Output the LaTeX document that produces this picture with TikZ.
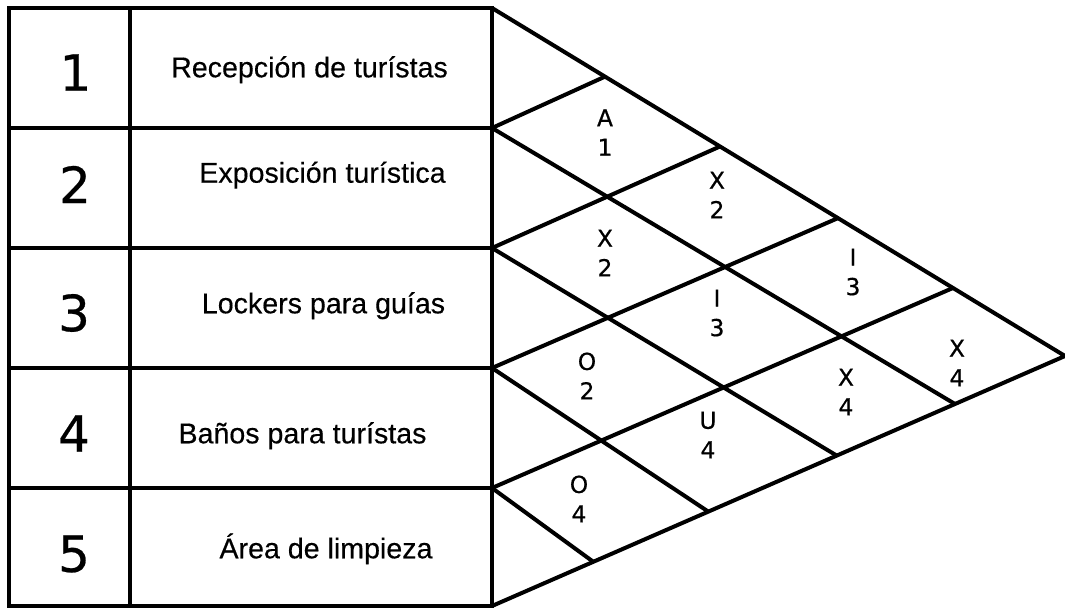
\documentclass[tikz,border=0pt]{standalone}
\usepackage{fontspec}
\setmainfont{Liberation Sans}
\newfontfamily\areafont[FakeBold=0.4]{Liberation Sans}
\newfontfamily\numfont[FakeBold=0.5]{DejaVu Sans}
\newfontfamily\relfont[FakeBold=0.7]{DejaVu Sans}
\usetikzlibrary{calc}
\begin{document}
\begin{tikzpicture}[x=1pt,y=-1pt,
  frame/.style={line width=4pt, line cap=butt, line join=miter},
  num/.style={font=\numfont\fontsize{50}{60}\selectfont, inner sep=0pt},
  area/.style={font=\areafont\fontsize{28.6}{32}\selectfont, inner sep=0pt, anchor=base},
  rel/.style={font=\relfont\fontsize{23.3}{29.5}\selectfont, align=center, inner sep=0pt}]
\useasboundingbox (0,0) rectangle (1065,609);
% table grid coordinates
\foreach \k/\y in {0/8,1/128,2/248,3/368,4/488,5/606}{
  \coordinate (L\k) at (9,\y);
  \coordinate (C\k) at (130,\y);
  \coordinate (P\k) at (492,\y);
}
\coordinate (A) at (1065,356);
% points on the top side of the triangle
\coordinate (T1) at ($(P0)!0.1972!(A)$);
\coordinate (T2) at ($(P0)!0.3979!(A)$);
\coordinate (T3) at ($(P0)!0.6038!(A)$);
\coordinate (T4) at ($(P0)!0.8045!(A)$);
% points on the bottom side of the triangle
\coordinate (B1) at ($(P5)!0.8080!(A)$);
\coordinate (B2) at ($(P5)!0.6016!(A)$);
\coordinate (B3) at ($(P5)!0.3775!(A)$);
\coordinate (B4) at ($(P5)!0.1768!(A)$);
% table
\draw[frame] (L0) -- (P0) -- (P5) -- (L5) -- cycle;
\draw[frame] (C0) -- (C5);
\foreach \k in {1,2,3,4}{ \draw[frame] (L\k) -- (P\k); }
% relationship triangle
\draw[frame] (P0) -- (A) -- (P5);
\foreach \k in {1,2,3,4}{
  \draw[frame] (P\k) -- (B\k);
  \draw[frame] (P\k) -- (T\k);
}
% numbers
\node[num] (n1) at (75.5,72.5) {1};
\node[num] (n2) at (75,184.5) {2};
\node[num] (n3) at (74,313) {3};
\node[num] (n4) at (74,433.5) {4};
\node[num] (n5) at (74,554) {5};
% activity names
\node[area] (a1) at (309.5,77.3) {Recepción de turístas};
\node[area] (a2) at (322.5,182.7) {Exposición turística};
\node[area] (a3) at (323.5,313.3) {Lockers para guías};
\node[area] (a4) at (302.5,443.3) {Baños para turístas};
\node[area] (a5) at (326,558.3) {Área de limpieza};
% relationship codes
\node[rel] (r12) at (605,132.5) {A\\1};
\node[rel] (r13) at (717,195) {X\\2};
\node[rel] (r23) at (605,253) {X\\2};
\node[rel] (r14) at (853,272) {I\\3};
\node[rel] (r24) at (717,313) {I\\3};
\node[rel] (r34) at (587,376) {O\\2};
\node[rel] (r15) at (957,363) {X\\4};
\node[rel] (r25) at (846,392) {X\\4};
\node[rel] (r35) at (708,435) {U\\4};
\node[rel] (r45) at (579,499) {O\\4};
\end{tikzpicture}
\end{document}
